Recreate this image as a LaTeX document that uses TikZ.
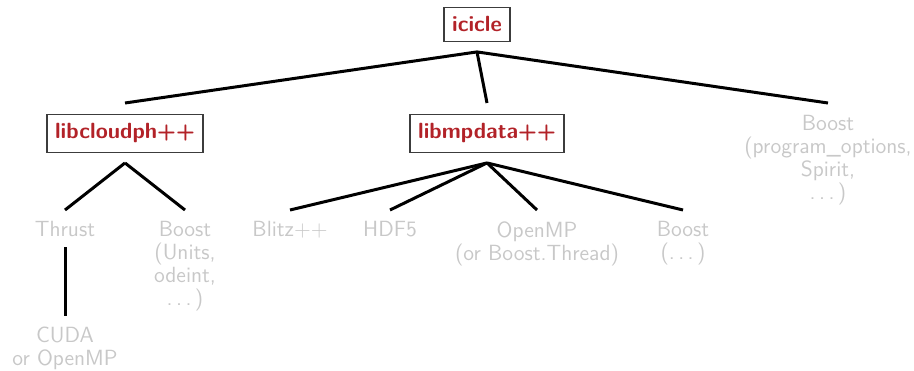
\documentclass[tikz,border=0pt]{standalone}
\definecolor{libred}{RGB}{178,34,40}
\definecolor{depgray}{RGB}{200,200,200}
\definecolor{boxgray}{RGB}{60,60,60}
\newcommand{\sdots}{.\kern1.7pt.\kern1.7pt.\kern1.7pt}
\begin{document}
\begin{tikzpicture}[x=0.5pt,y=-0.5pt,
  box/.style={draw=boxgray, line width=0.7pt, inner xsep=4pt, inner ysep=4.5pt, anchor=north,
    font=\sffamily\bfseries\fontsize{11}{12}\selectfont, text=libred},
  dep/.style={inner sep=0pt, anchor=north, align=center, text=depgray,
    font=\sffamily\fontsize{11}{11.5}\selectfont},
  link/.style={line width=1.5pt}]
\useasboundingbox (0,0) rectangle (914,370);
% boxed libraries
\node[box] (icicle) at (477,7) {icicle};
\node[box] (cloud) at (125,114) {libcloudph++};
\node[box] (mpdata) at (487,114) {libmpdata++};
% dependencies
\node[dep] (boostr) at (828,115) {Boost\\(program\_options,\\Spirit,\\\sdots)};
\node[dep] (thrust) at (65,221) {Thrust};
\node[dep] (boostc) at (185,221) {Boost\\(Units,\\odeint,\\\sdots)};
\node[dep] (cuda) at (65,327) {CUDA\\or OpenMP};
\node[dep] (blitz) at (290,221) {Blitz++};
\node[dep] (hdf) at (390,221) {HDF5};
\node[dep] (openmp) at (537,221) {OpenMP\\(or Boost.Thread)};
\node[dep] (boostm) at (683,221) {Boost\\(\sdots)};
% connectors
\draw[link] ([yshift=-5pt]icicle.south) -- ([yshift=5.5pt]cloud.north);
\draw[link] ([yshift=-5pt]icicle.south) -- ([yshift=5.5pt]mpdata.north);
\draw[link] ([yshift=-5pt]icicle.south) -- ([yshift=6pt]boostr.north);
\draw[link] ([yshift=-5pt]cloud.south) -- ([yshift=5.5pt]thrust.north);
\draw[link] ([yshift=-5pt]cloud.south) -- ([yshift=5.5pt]boostc.north);
\draw[link] ([yshift=-5pt]thrust.south) -- ([yshift=5.5pt]cuda.north);
\draw[link] ([yshift=-5pt]mpdata.south) -- ([yshift=5.5pt]blitz.north);
\draw[link] ([yshift=-5pt]mpdata.south) -- ([yshift=5.5pt]hdf.north);
\draw[link] ([yshift=-5pt]mpdata.south) -- ([yshift=5.5pt]openmp.north);
\draw[link] ([yshift=-5pt]mpdata.south) -- ([yshift=5.5pt]boostm.north);
\end{tikzpicture}
\end{document}
